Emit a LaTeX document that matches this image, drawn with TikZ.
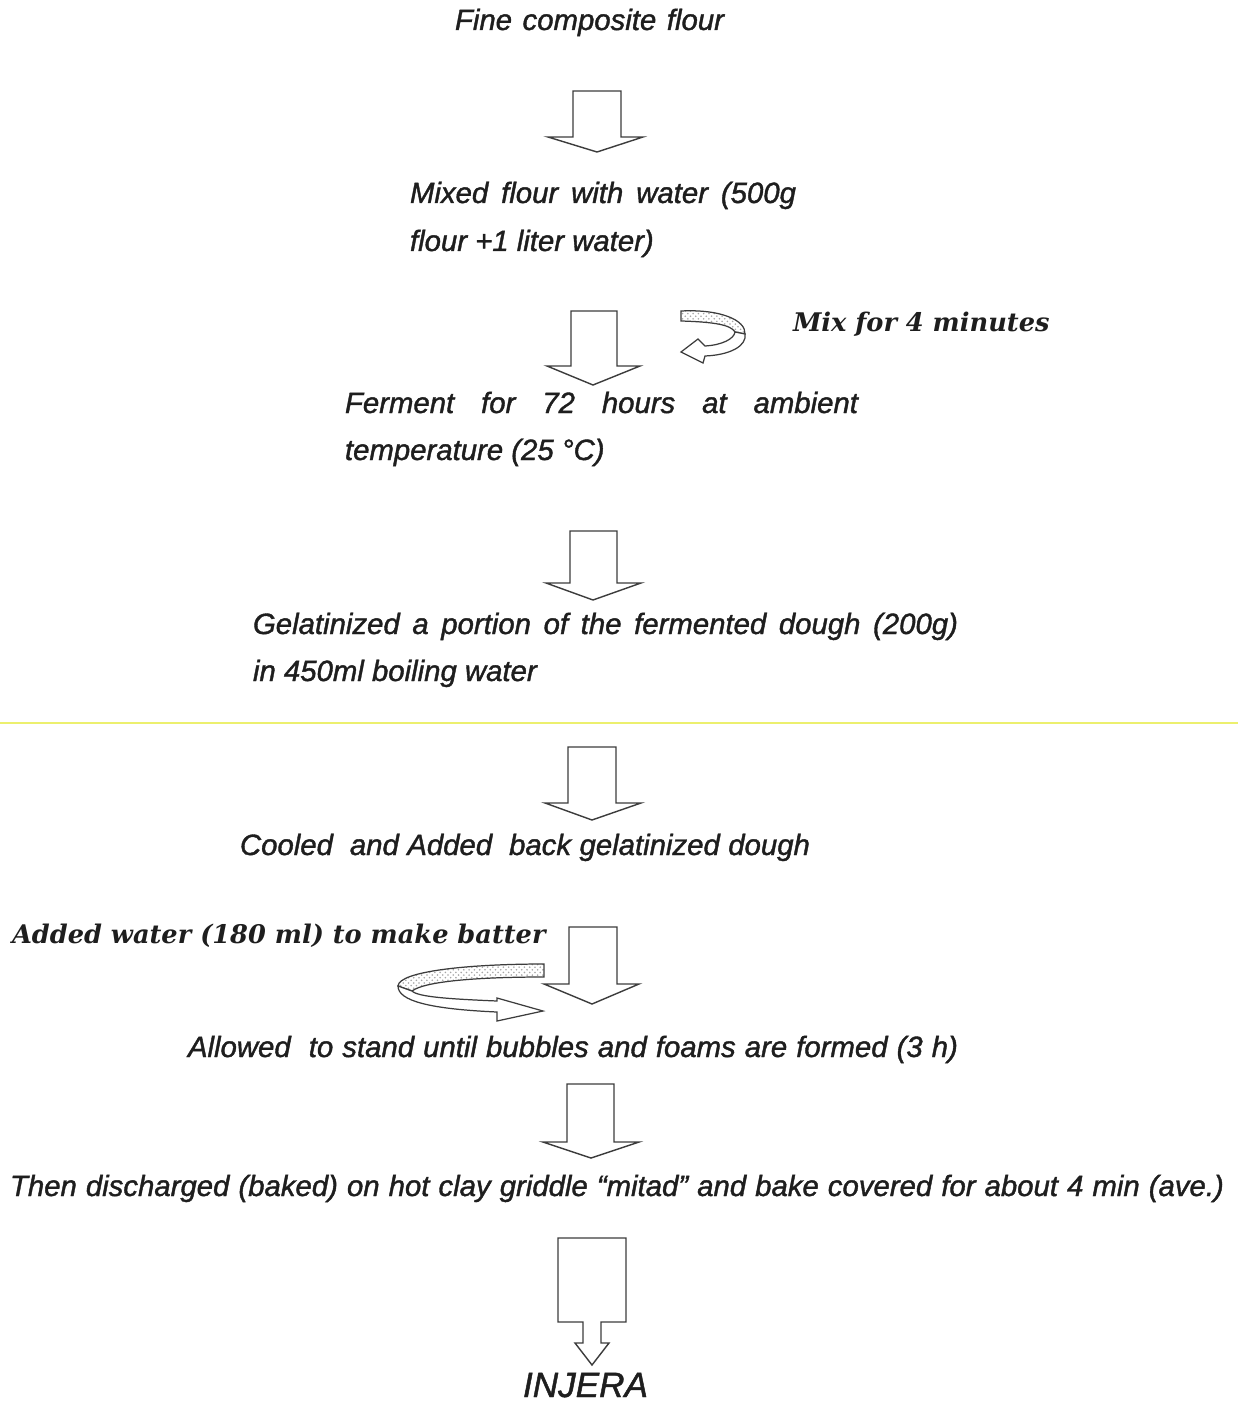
\documentclass[tikz,border=0pt]{standalone}
\usepackage{fontspec}
\setmainfont{Liberation Sans}
\newfontfamily\medit{Liberation Sans}[FakeBold=1.3]
\newfontfamily\bkfont{DejaVu Serif}
\usetikzlibrary{patterns}
\definecolor{ink}{RGB}{30,30,30}
\definecolor{aline}{RGB}{60,60,60}
\definecolor{yline}{RGB}{236,240,110}
\newlength\pxu
\setlength\pxu{0.02cm}
\newcommand{\fitw}[2]{\makebox[#1\pxu][s]{#2}}
\newcommand{\dnarrow}[8]{\draw[barrow] (#1,#3) -- (#2,#3) -- (#2,#4) -- (#6,#4) -- (#8,#7) -- (#5,#4) -- (#1,#4) -- cycle;}
\tikzset{
 txt/.style={anchor=base west, inner sep=0pt, outer sep=0pt, text=ink, font=\fontsize{16.7}{20}\selectfont\medit\itshape},
 ser/.style={anchor=base west, inner sep=0pt, outer sep=0pt, text=ink, font=\fontsize{14.6}{17}\selectfont\bkfont\bfseries\itshape},
 big/.style={txt, font=\fontsize{20}{24}\selectfont\medit\itshape},
 barrow/.style={draw=aline, line width=0.8pt, fill=white, line join=miter},
 ribback/.style={draw=aline, line width=0.7pt, pattern=crosshatch dots, pattern color=gray!70},
 ribfront/.style={draw=aline, line width=0.7pt, fill=white, line join=miter},
}
\begin{document}
\begin{tikzpicture}[x=0.02cm,y=-0.02cm]
\useasboundingbox (0,0) rectangle (1238,1402);
\fill[white] (0,0) rectangle (1238,1402);

% texts
\node[txt] (t1) at (455,30) {\fitw{269}{Fine composite flour}};
\node[txt] (t2) at (410,203) {\fitw{386}{Mixed flour with water (500g}};
\node[txt] (t2b) at (410,251) {flour +1 liter water)};
\node[ser] (m1) at (793,331) {Mix for 4 minutes};
\node[txt] (t3) at (345,413) {\fitw{513}{Ferment for 72 hours at ambient}};
\node[txt] (t3b) at (345,460) {temperature (25 °C)};
\node[txt] (t4) at (253,634) {\fitw{705}{Gelatinized a portion of the fermented dough (200g)}};
\node[txt] (t4b) at (253,681) {in 450ml boiling water};
\node[txt] (t5) at (240,855) {\fitw{570}{Cooled \ and Added \ back gelatinized dough}};
\node[ser] (m2) at (12,943) {Added water (180 ml) to make batter};
\node[txt] (t6) at (188,1057) {\fitw{770}{Allowed \ to stand until bubbles and foams are formed (3 h)}};
\node[txt] (t7) at (10,1196) {\fitw{1214}{Then discharged (baked) on hot clay griddle “mitad” and bake covered for about 4 min (ave.)}};
\node[big] (t8) at (523,1397) {INJERA};

% yellow line
\draw[yline, line width=1.2pt] (0,723) -- (1238,723);

% block arrows: L R top base HL HR tipy tipx
\dnarrow{573}{621}{91}{137}{548}{643}{152}{597}
\dnarrow{571}{617}{311}{366}{547}{640}{385}{593}
\dnarrow{570}{617}{531}{583}{546}{641}{600}{593}
\dnarrow{568}{616}{747}{803}{545}{641}{820}{592}
\dnarrow{569}{617}{927}{984}{544}{639}{1004}{592}
\dnarrow{567}{614}{1084}{1142}{543}{639}{1158}{591}
\draw[barrow] (558,1238) -- (626,1238) -- (626,1322) -- (601,1322) -- (601,1343) -- (609,1343) -- (592,1365) -- (575,1343) -- (583,1343) -- (583,1322) -- (558,1322) -- cycle;

% curved arrow: mix
\draw[ribback] (681,311) .. controls (720,309) and (746,320) .. (745,334) -- (735,332) .. controls (731,325) and (715,322) .. (681,321) -- cycle;
\draw[ribfront] (735,332) .. controls (734,339) and (722,345) .. (705,346) -- (698,339) -- (681,352) -- (703,363) -- (705,356) .. controls (730,355) and (747,346) .. (745,334) -- cycle;

% curved arrow: batter
\draw[ribback] (544,964) .. controls (470,964) and (399,971) .. (398,986) -- (412,991) .. controls (425,981) and (480,977) .. (544,977) -- cycle;
\draw[ribfront] (398,986) .. controls (398,1001) and (430,1009) .. (497,1012) -- (497,1021) -- (543,1011) -- (497,998) -- (497,1001) .. controls (450,999) and (418,997) .. (412,991) -- cycle;
\end{tikzpicture}
\end{document}
